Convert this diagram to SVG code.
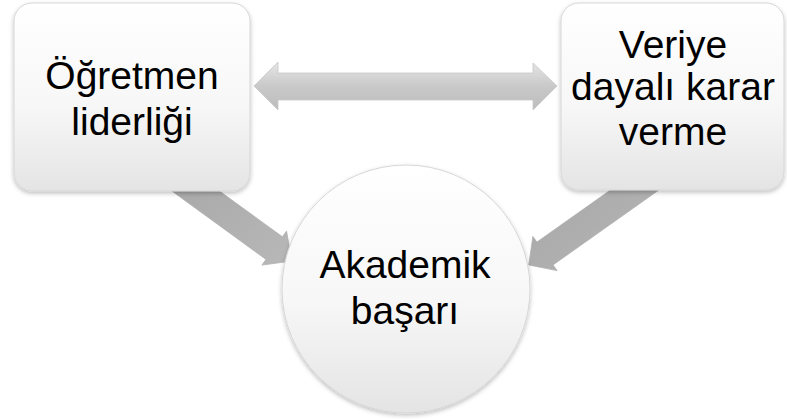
<svg xmlns="http://www.w3.org/2000/svg" width="787" height="419" viewBox="0 0 787 419">
  <style>
    .node { fill: url(#nodeGrad); stroke: #d6d6d6; stroke-width: 1; filter: url(#shadow); }
    .label { font-family: "Liberation Sans", Arial, sans-serif; font-size: 39px; fill: #000; text-anchor: middle; }
    .arrow { fill: url(#arrowGrad); stroke: #b0b0b0; stroke-width: 0.8; }
    .harrow { fill: url(#hArrowGrad); stroke: #c8c8c8; stroke-width: 0.8; }
  </style>
  <defs>
    <linearGradient id="nodeGrad" x1="0" y1="0" x2="0" y2="1">
      <stop offset="0" stop-color="#ffffff"/>
      <stop offset="0.55" stop-color="#f7f7f7"/>
      <stop offset="1" stop-color="#e4e4e4"/>
    </linearGradient>
    <linearGradient id="arrowGrad" x1="0" y1="0" x2="1" y2="1">
      <stop offset="0" stop-color="#a4a4a4"/>
      <stop offset="1" stop-color="#b8b8b8"/>
    </linearGradient>
    <linearGradient id="hArrowGrad" x1="0" y1="0" x2="0" y2="1">
      <stop offset="0" stop-color="#e6e6e6"/>
      <stop offset="0.5" stop-color="#c9c9c9"/>
      <stop offset="1" stop-color="#bdbdbd"/>
    </linearGradient>
    <filter id="shadow" x="-10%" y="-10%" width="120%" height="125%">
      <feDropShadow dx="0" dy="2" stdDeviation="2" flood-color="#000" flood-opacity="0.25"/>
    </filter>
  </defs>

  <g id="connectors">
    <polygon class="harrow" points="254,86 278,62 278,73 533,73 533,63 557,86 533,110 533,100 278,100 278,110"/>
    <polygon class="arrow" points="161,148.6 282.4,236.8 286.5,231.1 292,261 261.9,265.1 266,259.4 144.6,171.2"/>
    <polygon class="arrow" points="659.3,155.4 536.9,242.1 532.9,236.4 528.7,265 557.1,270.6 553.1,264.9 675.5,178.2"/>
  </g>

  <g id="node-ogretmen">
    <rect class="node" x="14" y="3" width="236" height="188" rx="18" ry="18"/>
    <text class="label" x="132" y="89">Öğretmen</text>
    <text class="label" x="132" y="135">liderliği</text>
  </g>

  <g id="node-veriye">
    <rect class="node" x="561" y="3" width="223" height="187" rx="18" ry="18"/>
    <text class="label" x="673" y="58">Veriye</text>
    <text class="label" x="673" y="100">dayalı karar</text>
    <text class="label" x="673" y="145">verme</text>
  </g>

  <g id="node-akademik">
    <circle class="node" cx="406" cy="289" r="124"/>
    <text class="label" x="405" y="278">Akademik</text>
    <text class="label" x="405" y="324">başarı</text>
  </g>
</svg>
